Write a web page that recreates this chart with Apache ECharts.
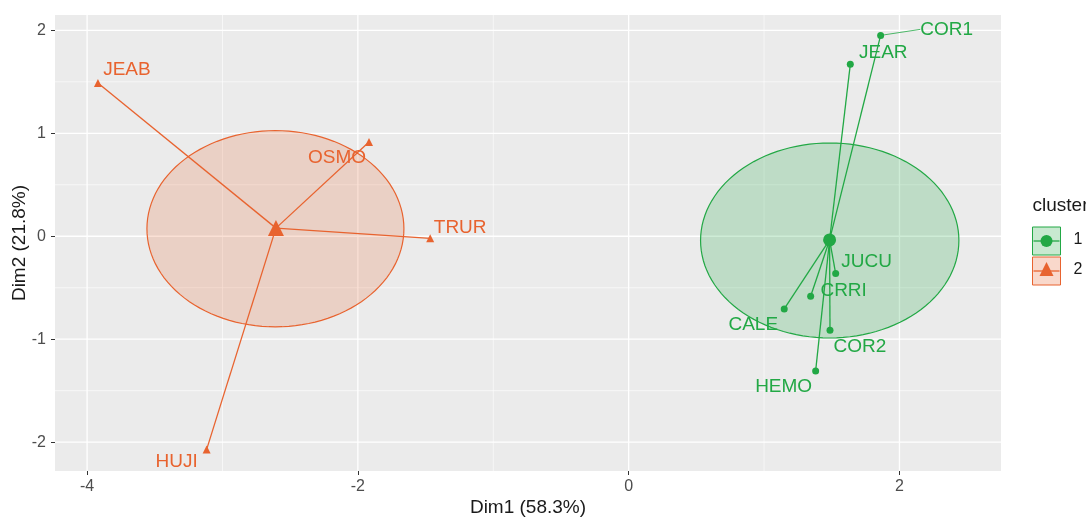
<!DOCTYPE html>
<html>
<head>
<meta charset="utf-8">
<script src="https://cdn.jsdelivr.net/npm/echarts@6/dist/echarts.min.js"></script>
<style>
  html, body { margin: 0; padding: 0; background: #fff; }
  #main { width: 1086px; height: 517px; }
</style>
</head>
<body>
<div id="main"></div>
<script>
// tick values
var xTicks = [-4, -2, 0, 2];
var yTicks = [-2, -1, 0, 1, 2];
var xMinor = [-3, -1, 1];
var yMinor = [-1.5, -0.5, 0.5, 1.5];

// cluster 1 (green)
var names1 = ['COR1', 'JEAR', 'JUCU', 'CRRI', 'CALE', 'COR2', 'HEMO'];
var dim1_c1 = [1.861, 1.637, 1.529, 1.344, 1.149, 1.487, 1.381];
var dim2_c1 = [1.951, 1.670, -0.362, -0.583, -0.706, -0.913, -1.308];

// cluster 2 (orange)
var names2 = ['JEAB', 'OSMO', 'TRUR', 'HUJI'];
var dim1_c2 = [-3.920, -1.918, -1.466, -3.117];
var dim2_c2 = [1.488, 0.916, -0.020, -2.070];

// cluster centres and ellipses
var centerX = [1.484, -2.605];
var centerY = [-0.036, 0.079];
var ellipseX = [1.485, -2.609];
var ellipseY = [-0.041, 0.073];
var ellipseRx = [0.954, 0.949];
var ellipseRy = [0.947, 0.953];

var colors = ['#22A845', '#E8632F'];
var fills = ['rgba(34,168,69,0.22)', 'rgba(232,99,47,0.2)'];
var font = 'Liberation Sans, Arial, sans-serif';

// label offsets in pixels (style only)
var shift1 = [[66, -6], [33, -12], [31, -12], [33, -6], [-31, 16], [30, 17], [-32, 16]];
var shift2 = [[29, -13], [-32, 16], [30, -11], [-30, 12]];

var myChart = echarts.init(document.getElementById('main'));

var gridData = [];
xTicks.forEach(function (v) { gridData.push([v, 0, 0, 1]); });
xMinor.forEach(function (v) { gridData.push([v, 0, 0, 0]); });
yTicks.forEach(function (v) { gridData.push([0, v, 1, 1]); });
yMinor.forEach(function (v) { gridData.push([0, v, 1, 0]); });

function pointData(xs, ys, names) {
    return xs.map(function (x, i) {
        return { name: names[i], value: [x, ys[i]] };
    });
}

function spokes(k, xs, ys) {
    return xs.map(function (x, i) {
        return { coords: [[centerX[k], centerY[k]], [x, ys[i]]] };
    });
}

function labelSeries(k, xs, ys, names, shift, symbol, size) {
    var data = pointData(xs, ys, names);
    if (k === 0) data[0].labelLine = { show: true };
    return {
        name: String(k + 1),
        type: 'scatter',
        symbol: symbol,
        symbolSize: size,
        z: 5,
        itemStyle: { color: colors[k], opacity: 1 },
        label: {
            show: true,
            position: 'inside',
            formatter: '{b}',
            color: colors[k],
            fontSize: 19,
            fontFamily: font
        },
        labelLine: { show: false, lineStyle: { color: colors[k], width: 0.8 } },
        labelLayout: function (p) {
            return { dx: shift[p.dataIndex][0], dy: shift[p.dataIndex][1] };
        },
        emphasis: { disabled: true },
        data: data
    };
}

var option = {
    animation: false,
    grid: {
        left: 55, top: 15, right: 85, bottom: 46,
        outerBoundsMode: 'none',
        containLabel: false,
        show: true, backgroundColor: '#EBEBEB', borderWidth: 0
    },
    xAxis: {
        type: 'value',
        min: -4.237, max: 2.75,
        name: 'Dim1 (58.3%)',
        nameLocation: 'middle',
        nameGap: 27,
        nameMoveOverlap: false,
        nameTextStyle: { fontSize: 19, color: '#1a1a1a', fontFamily: font },
        axisLine: { show: false, onZero: false },
        axisTick: { show: true, length: 4, customValues: xTicks, lineStyle: { color: '#333' } },
        axisLabel: { customValues: xTicks, margin: 8, fontSize: 16, color: '#4D4D4D', fontFamily: font },
        splitLine: { show: false }
    },
    yAxis: {
        type: 'value',
        min: -2.28, max: 2.149,
        name: 'Dim2 (21.8%)',
        nameLocation: 'middle',
        nameGap: 26,
        nameMoveOverlap: false,
        nameTextStyle: { fontSize: 19, color: '#1a1a1a', fontFamily: font },
        axisLine: { show: false, onZero: false },
        axisTick: { show: true, length: 4, customValues: yTicks, lineStyle: { color: '#333' } },
        axisLabel: { customValues: yTicks, margin: 9, fontSize: 16, color: '#4D4D4D', fontFamily: font },
        splitLine: { show: false }
    },
    graphic: [{
        type: 'group',
        left: 1031, top: 196,
        children: [
            { type: 'text', x: 0, y: 0, style: { text: 'cluster', fontSize: 19, fontFamily: font, fill: '#1a1a1a' } },
            { type: 'rect', shape: { x: 0, y: 31, width: 28, height: 28 }, style: { fill: 'rgba(34,168,69,0.25)', stroke: colors[0], lineWidth: 1 } },
            { type: 'line', shape: { x1: 1, y1: 45, x2: 27, y2: 45 }, style: { stroke: colors[0], lineWidth: 1.3 } },
            { type: 'circle', shape: { cx: 14, cy: 45, r: 6 }, style: { fill: colors[0] } },
            { type: 'text', x: 41, y: 36, style: { text: '1', fontSize: 16, fontFamily: font, fill: '#1a1a1a' } },
            { type: 'rect', shape: { x: 0, y: 61, width: 28, height: 28 }, style: { fill: 'rgba(232,99,47,0.25)', stroke: colors[1], lineWidth: 1 } },
            { type: 'line', shape: { x1: 1, y1: 75, x2: 27, y2: 75 }, style: { stroke: colors[1], lineWidth: 1.3 } },
            { type: 'polygon', shape: { points: [[14, 66], [21, 80], [7, 80]] }, style: { fill: colors[1] } },
            { type: 'text', x: 41, y: 66, style: { text: '2', fontSize: 16, fontFamily: font, fill: '#1a1a1a' } }
        ]
    }],
    series: [
        {
            type: 'custom',
            silent: true,
            z: 1,
            renderItem: function (params, api) {
                var cs = params.coordSys;
                var major = api.value(3);
                var p = api.coord([api.value(0), api.value(1)]);
                var shape = api.value(2) === 0
                    ? { x1: p[0], y1: cs.y, x2: p[0], y2: cs.y + cs.height }
                    : { x1: cs.x, y1: p[1], x2: cs.x + cs.width, y2: p[1] };
                return { type: 'line', shape: shape, style: { stroke: '#fff', lineWidth: major ? 1.3 : 0.6 } };
            },
            data: gridData
        },
        {
            type: 'custom',
            silent: true,
            z: 2,
            renderItem: function (params, api) {
                var k = params.dataIndex;
                var c = api.coord([api.value(0), api.value(1)]);
                var s = api.size([api.value(2), api.value(3)]);
                var pts = [];
                for (var i = 0; i < 120; i++) {
                    var t = i / 120 * Math.PI * 2;
                    pts.push([c[0] + s[0] * Math.cos(t), c[1] + s[1] * Math.sin(t)]);
                }
                return { type: 'polygon', shape: { points: pts }, style: { fill: fills[k], stroke: colors[k], lineWidth: 1.2 } };
            },
            data: ellipseX.map(function (x, k) { return [x, ellipseY[k], ellipseRx[k], ellipseRy[k]]; })
        },
        {
            type: 'lines', coordinateSystem: 'cartesian2d', z: 3, silent: true,
            lineStyle: { color: colors[0], width: 1.3, opacity: 1 },
            data: spokes(0, dim1_c1, dim2_c1)
        },
        {
            type: 'lines', coordinateSystem: 'cartesian2d', z: 3, silent: true,
            lineStyle: { color: colors[1], width: 1.3, opacity: 1 },
            data: spokes(1, dim1_c2, dim2_c2)
        },
        labelSeries(0, dim1_c1, dim2_c1, names1, shift1, 'circle', 7),
        labelSeries(1, dim1_c2, dim2_c2, names2, shift2, 'triangle', 8),
        {
            type: 'scatter', z: 4, silent: true,
            symbol: 'circle', symbolSize: 13,
            itemStyle: { color: colors[0], opacity: 1 },
            data: [[centerX[0], centerY[0]]]
        },
        {
            type: 'scatter', z: 4, silent: true,
            symbol: 'triangle', symbolSize: 16,
            itemStyle: { color: colors[1], opacity: 1 },
            data: [[centerX[1], centerY[1]]]
        }
    ]
};

myChart.setOption(option);
</script>
</body>
</html>
